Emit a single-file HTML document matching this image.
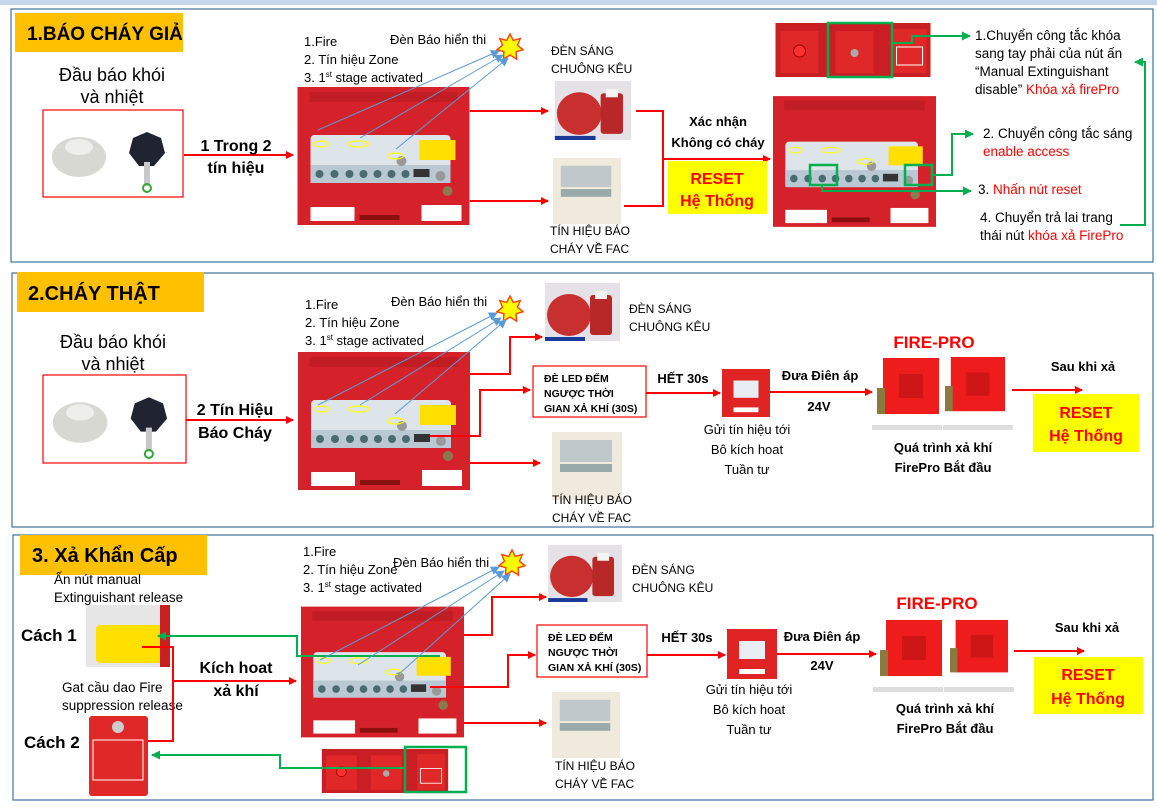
<!DOCTYPE html>
<html><head><meta charset="utf-8"><style>
body{margin:0;background:#fff}
svg text{font-family:"Liberation Sans",sans-serif}
.b{font-weight:bold}
</style></head><body>
<svg width="1157" height="805" viewBox="0 0 1157 805" xmlns="http://www.w3.org/2000/svg">
<defs>
<marker id="ar" markerWidth="8" markerHeight="8" refX="7" refY="4" orient="auto" markerUnits="userSpaceOnUse"><path d="M0,0 L8,4 L0,8 z" fill="#ff0000"/></marker>
<marker id="ag" markerWidth="9" markerHeight="9" refX="8" refY="4.5" orient="auto" markerUnits="userSpaceOnUse"><path d="M0,0 L9,4.5 L0,9 z" fill="#00b050"/></marker>
<marker id="ab" markerWidth="9" markerHeight="9" refX="8" refY="4.5" orient="auto" markerUnits="userSpaceOnUse"><path d="M0,0 L9,4.5 L0,9 z" fill="#5b9bd5"/></marker>
<symbol id="panel" viewBox="0 0 172 138">
<rect width="172" height="138" fill="#d5222a"/>
<rect x="12" y="5" width="148" height="10" fill="#c01d24"/>
<rect x="13" y="48" width="140" height="48" rx="4" fill="#dde4ea"/>
<rect x="13" y="78" width="140" height="18" fill="#b9c8d2"/>
<g fill="#4a6b70"><circle cx="22" cy="87" r="4"/><circle cx="37" cy="87" r="4"/><circle cx="52" cy="87" r="4"/><circle cx="66" cy="87" r="4"/><circle cx="80" cy="87" r="4"/><circle cx="94" cy="87" r="4"/><circle cx="108" cy="87" r="4"/></g>
<rect x="122" y="53" width="36" height="20" fill="#ffe000"/>
<rect x="116" y="82" width="16" height="8" fill="#333"/>
<circle cx="104" cy="74" r="5" fill="#999"/><circle cx="143" cy="89" r="5" fill="#999"/><circle cx="150" cy="104" r="5" fill="#8a7a50"/>
<rect x="13" y="120" width="44" height="14" fill="#fff"/>
<rect x="124" y="118" width="40" height="16" fill="#fff"/>
<rect x="62" y="128" width="40" height="5" fill="#8a1010"/>
<g fill="none" stroke="#ffff00" stroke-width="1.2"><ellipse cx="24" cy="57" rx="7" ry="3"/><ellipse cx="61" cy="57" rx="10" ry="3"/><ellipse cx="98" cy="69" rx="8" ry="3"/></g>
</symbol>
<symbol id="bell" viewBox="0 0 75 58">
<rect width="75" height="58" fill="#e4e2e6"/>
<ellipse cx="24" cy="32" rx="22" ry="21" fill="#c83030"/>
<rect x="45" y="12" width="22" height="40" rx="3" fill="#b82828"/><rect x="50" y="8" width="12" height="8" fill="#f4f4f4"/>
<rect x="0" y="54" width="40" height="4" fill="#1a3a9a"/>
</symbol>
<symbol id="fac" viewBox="0 0 70 68">
<rect width="70" height="68" fill="#efeadc"/>
<rect x="8" y="8" width="52" height="22" fill="#c0c8cc"/>
<rect x="8" y="32" width="52" height="8" fill="#9aa"/>
</symbol>
<symbol id="mod" viewBox="0 0 50 50">
<rect width="50" height="50" fill="#e02424"/>
<rect x="12" y="12" width="26" height="18" fill="#e8eef4"/>
<rect x="12" y="40" width="26" height="5" fill="#fff"/>
</symbol>
<symbol id="fp" viewBox="0 0 62 62">
<rect x="6" width="56" height="56" fill="#ee1c1c"/>
<rect x="0" y="30" width="8" height="26" fill="#8a7a40"/>
<rect x="22" y="16" width="24" height="24" fill="#b01010" opacity=".5"/>
</symbol>
<symbol id="star" viewBox="0 0 30 30">
<polygon points="15,1 18.5,8 26,6 23,13 29,18 21.5,20 22,28 15,23.5 8,28 8.5,20 1,18 7,13 4,6 11.5,8" fill="#ffff00" stroke="#ff4000" stroke-width="1.5"/>
</symbol>
<symbol id="strip" viewBox="0 0 155 54">
<rect width="155" height="54" fill="#c81e24"/>
<rect x="5" y="8" width="38" height="42" fill="#e02828"/><circle cx="24" cy="28" r="6" fill="#ff3030" stroke="#900"/>
<rect x="60" y="8" width="38" height="42" fill="#e02828"/><circle cx="79" cy="30" r="4" fill="#aaa"/>
<rect x="117" y="6" width="34" height="44" fill="#e02828"/><rect x="121" y="24" width="26" height="18" fill="none" stroke="#fff"/>
</symbol>
<symbol id="det" viewBox="0 0 140 87">
<ellipse cx="36" cy="47" rx="27" ry="20" fill="#d8d8d2"/><ellipse cx="36" cy="37" rx="14" ry="8" fill="#eeeeea"/>
<polygon points="104,22 118,28 122,43 111,56 96,56 86,43 90,28" fill="#1f2430"/>
<rect x="101" y="52" width="6" height="24" fill="#c8c8c8"/>
<circle cx="104" cy="78" r="4" fill="none" stroke="#3a3" stroke-width="2"/>
</symbol>
</defs>

<rect x="0" y="0" width="1157" height="5" fill="#c5d6ea"/>
<g fill="none" stroke="#41719c" stroke-width="1.2">
<rect x="11" y="9" width="1142" height="253"/>
<rect x="12" y="273" width="1141" height="254"/>
<rect x="13" y="535" width="1140" height="265"/>
</g>

<!-- ===== SECTION 1 ===== -->
<rect x="15" y="13" width="168" height="39" fill="#ffc000"/>
<text x="27" y="40" class="b" font-size="19">1.BÁO CHÁY GIẢ</text>
<text x="112" y="81" font-size="18" text-anchor="middle">Đầu báo khói</text>
<text x="112" y="103" font-size="18" text-anchor="middle">và nhiệt</text>
<rect x="43" y="110" width="140" height="87" fill="#fff" stroke="#f00" stroke-width="1.2"/>
<use href="#det" x="43" y="110" width="140" height="87"/>
<line x1="184" y1="155" x2="293" y2="155" stroke="#f00" stroke-width="2" marker-end="url(#ar)"/>
<text x="236" y="151" class="b" font-size="16" text-anchor="middle">1 Trong 2</text>
<text x="236" y="173" class="b" font-size="16" text-anchor="middle">tín hiệu</text>
<use href="#panel" x="297" y="87" width="173" height="138"/>
<text x="304" y="46" font-size="13">1.Fire</text>
<text x="304" y="64" font-size="13">2. Tín hiệu Zone</text>
<text x="304" y="82" font-size="13">3. 1<tspan font-size="8" dy="-5">st</tspan><tspan dy="5"> stage activated</tspan></text>
<text x="390" y="44" font-size="13">Đèn Báo hiển thi</text>
<use href="#star" x="496" y="33" width="28" height="28"/>
<g stroke="#5b9bd5" stroke-width="1" marker-end="url(#ab)">
<line x1="318" y1="130" x2="499" y2="51"/><line x1="360" y1="138" x2="503" y2="55"/><line x1="396" y1="149" x2="508" y2="58"/>
</g>
<line x1="470" y1="111" x2="548" y2="111" stroke="#f00" stroke-width="2" marker-end="url(#ar)"/>
<line x1="470" y1="201" x2="548" y2="201" stroke="#f00" stroke-width="2" marker-end="url(#ar)"/>
<text x="551" y="55" font-size="12">ĐÈN SÁNG</text>
<text x="551" y="73" font-size="12">CHUÔNG KÊU</text>
<use href="#bell" x="551" y="81" width="84" height="59"/>
<use href="#fac" x="551" y="158" width="72" height="66"/>
<text x="550" y="235" font-size="12">TÍN HIỆU BÁO</text>
<text x="550" y="253" font-size="12">CHÁY VỀ FAC</text>
<polyline points="636,111 663,111 663,206 624,206" fill="none" stroke="#f00" stroke-width="2"/>
<line x1="663" y1="159" x2="770" y2="159" stroke="#f00" stroke-width="2" marker-end="url(#ar)"/>
<text x="718" y="126" class="b" font-size="13" text-anchor="middle">Xác nhận</text>
<text x="718" y="147" class="b" font-size="13" text-anchor="middle">Không có cháy</text>
<rect x="668" y="161" width="99" height="53" fill="#ffff00"/>
<text x="717" y="184" class="b" font-size="16" fill="#f00" text-anchor="middle">RESET</text>
<text x="717" y="206" class="b" font-size="16" fill="#f00" text-anchor="middle">Hệ Thống</text>
<use href="#strip" x="773" y="23" width="160" height="54"/>
<rect x="828" y="23" width="64" height="54" fill="none" stroke="#00b050" stroke-width="2.5"/>
<use href="#panel" x="773" y="93" width="163" height="137"/>
<rect x="810" y="165" width="27" height="20" fill="none" stroke="#00b050" stroke-width="2.5"/>
<rect x="905" y="165" width="27" height="20" fill="none" stroke="#00b050" stroke-width="2.5"/>
<g fill="none" stroke="#00b050" stroke-width="2">
<polyline points="892,43 912,43 912,36 970,36" marker-end="url(#ag)"/>
<polyline points="932,175 952,175 952,134 973,134" marker-end="url(#ag)"/>
<polyline points="822,185 822,191 971,191" marker-end="url(#ag)"/>
<polyline points="1120,225 1145,225 1145,62 1135,62" marker-end="url(#ag)"/>
</g>
<g font-size="13.5">
<text x="975" y="40">1.Chuyển công tắc khóa</text>
<text x="975" y="58">sang tay phải của nút ấn</text>
<text x="975" y="76">“Manual Extinguishant</text>
<text x="975" y="94">disable” <tspan fill="#f00">Khóa xả firePro</tspan></text>
<text x="983" y="138">2. Chuyển công tắc sáng</text>
<text x="983" y="156" fill="#f00">enable access</text>
<text x="978" y="194">3. <tspan fill="#f00">Nhấn nút reset</tspan></text>
<text x="980" y="222">4. Chuyển trả lai trang</text>
<text x="980" y="240">thái nút <tspan fill="#f00">khóa xả FirePro</tspan></text>
</g>

<!-- ===== SECTION 2 ===== -->
<rect x="17" y="272" width="187" height="40" fill="#ffc000"/>
<text x="28" y="300" class="b" font-size="20">2.CHÁY THẬT</text>
<text x="113" y="348" font-size="18" text-anchor="middle">Đầu báo khói</text>
<text x="113" y="370" font-size="18" text-anchor="middle">và nhiệt</text>
<rect x="43" y="375" width="143" height="88" fill="#fff" stroke="#f00" stroke-width="1.2"/>
<use href="#det" x="43" y="375" width="143" height="88"/>
<line x1="186" y1="420" x2="293" y2="420" stroke="#f00" stroke-width="2" marker-end="url(#ar)"/>
<text x="235" y="415" class="b" font-size="16" text-anchor="middle">2 Tín Hiệu</text>
<text x="235" y="438" class="b" font-size="16" text-anchor="middle">Báo Cháy</text>
<use href="#panel" x="298" y="352" width="172" height="138"/>
<text x="305" y="309" font-size="13">1.Fire</text>
<text x="305" y="327" font-size="13">2. Tín hiệu Zone</text>
<text x="305" y="345" font-size="13">3. 1<tspan font-size="8" dy="-5">st</tspan><tspan dy="5"> stage activated</tspan></text>
<text x="391" y="306" font-size="13">Đèn Báo hiển thi</text>
<use href="#star" x="496" y="295" width="28" height="28"/>
<g stroke="#5b9bd5" stroke-width="1" marker-end="url(#ab)">
<line x1="318" y1="405" x2="497" y2="313"/><line x1="360" y1="405" x2="501" y2="318"/><line x1="395" y1="414" x2="506" y2="320"/>
</g>
<g fill="none" stroke="#f00" stroke-width="2" marker-end="url(#ar)">
<polyline points="470,374 510,374 510,337 542,337"/>
<polyline points="430,436 480,436 480,390 530,390"/>
<polyline points="470,463 540,463"/>
</g>
<use href="#bell" x="545" y="283" width="75" height="58"/>
<text x="629" y="313" font-size="12">ĐÈN SÁNG</text>
<text x="629" y="331" font-size="12">CHUÔNG KÊU</text>
<rect x="533" y="366" width="113" height="51" fill="#fff" stroke="#f00" stroke-width="1.2"/>
<g class="b" font-size="10.5"><text x="544" y="382">ĐÈ LED ĐẾM</text><text x="544" y="397">NGƯỢC THỜI</text><text x="544" y="412">GIAN XẢ KHÍ (30S)</text></g>
<use href="#fac" x="552" y="432" width="70" height="68"/>
<text x="552" y="504" font-size="12">TÍN HIỆU BÁO</text>
<text x="552" y="522" font-size="12">CHÁY VỀ FAC</text>
<text x="683" y="383" class="b" font-size="13" text-anchor="middle">HẾT 30s</text>
<line x1="646" y1="393" x2="720" y2="393" stroke="#f00" stroke-width="2" marker-end="url(#ar)"/>
<use href="#mod" x="722" y="368" width="48" height="50"/>
<line x1="770" y1="392" x2="872" y2="392" stroke="#f00" stroke-width="2" marker-end="url(#ar)"/>
<text x="820" y="380" class="b" font-size="13" text-anchor="middle">Đưa Điên áp</text>
<text x="819" y="411" class="b" font-size="13" text-anchor="middle">24V</text>
<text x="934" y="348" class="b" font-size="17" fill="#f00" text-anchor="middle">FIRE-PRO</text>
<use href="#fp" x="877" y="358" width="62" height="62"/>
<use href="#fp" x="945" y="356" width="60" height="62"/>
<rect x="872" y="425" width="70" height="5" fill="#ddd"/><rect x="943" y="425" width="70" height="5" fill="#ddd"/>
<text x="943" y="452" class="b" font-size="13" text-anchor="middle">Quá trình xả khí</text>
<text x="943" y="472" class="b" font-size="13" text-anchor="middle">FirePro Bắt đầu</text>
<g font-size="13" text-anchor="middle"><text x="747" y="434">Gửi tín hiệu tới</text><text x="747" y="454">Bô kích hoat</text><text x="747" y="474">Tuần tư</text></g>
<line x1="1012" y1="390" x2="1082" y2="390" stroke="#f00" stroke-width="2" marker-end="url(#ar)"/>
<text x="1083" y="371" class="b" font-size="13" text-anchor="middle">Sau khi xả</text>
<rect x="1033" y="394" width="106" height="58" fill="#ffff00"/>
<text x="1086" y="418" class="b" font-size="16" fill="#f00" text-anchor="middle">RESET</text>
<text x="1086" y="441" class="b" font-size="16" fill="#f00" text-anchor="middle">Hệ Thống</text>

<!-- ===== SECTION 3 ===== -->
<rect x="20" y="535" width="187" height="40" fill="#ffc000"/>
<text x="32" y="562" class="b" font-size="20">3. Xả Khẩn Cấp</text>
<text x="54" y="584" font-size="13.5">Ấn nút manual</text>
<text x="54" y="602" font-size="13.5">Extinguishant release</text>
<text x="21" y="641" class="b" font-size="17">Cách 1</text>
<rect x="86" y="605" width="84" height="62" fill="#e6e6e6"/><rect x="96" y="625" width="66" height="38" rx="4" fill="#ffe000"/><rect x="160" y="605" width="10" height="62" fill="#c82020"/>
<text x="62" y="692" font-size="13.5">Gat cầu dao Fire</text>
<text x="62" y="710" font-size="13.5">suppression release</text>
<text x="24" y="748" class="b" font-size="17">Cách 2</text>
<rect x="89" y="716" width="59" height="80" rx="3" fill="#e02828"/><rect x="93" y="740" width="50" height="40" fill="none" stroke="#fff"/><circle cx="118" cy="727" r="6" fill="#ccc"/>
<polyline points="142,647 173,647 173,741 148,741" fill="none" stroke="#f00" stroke-width="2"/>
<line x1="173" y1="681" x2="296" y2="681" stroke="#f00" stroke-width="2" marker-end="url(#ar)"/>
<text x="236" y="673" class="b" font-size="16" text-anchor="middle">Kích hoat</text>
<text x="236" y="696" class="b" font-size="16" text-anchor="middle">xả khí</text>
<use href="#panel" x="301" y="603" width="163" height="138"/>
<use href="#strip" x="312" y="749" width="146" height="44"/>
<rect x="405" y="747" width="61" height="45" fill="none" stroke="#00b050" stroke-width="2.5"/>
<g fill="none" stroke="#00b050" stroke-width="2">
<polyline points="440,656 297,656 297,636 158,636" marker-end="url(#ag)"/>
<polyline points="405,768 280,768 280,755 152,755" marker-end="url(#ag)"/>
</g>
<text x="303" y="556" font-size="13">1.Fire</text>
<text x="303" y="574" font-size="13">2. Tín hiệu Zone</text>
<text x="303" y="592" font-size="13">3. 1<tspan font-size="8" dy="-5">st</tspan><tspan dy="5"> stage activated</tspan></text>
<text x="393" y="567" font-size="13">Đèn Báo hiển thi</text>
<use href="#star" x="498" y="549" width="28" height="28"/>
<g stroke="#5b9bd5" stroke-width="1" marker-end="url(#ab)">
<line x1="320" y1="660" x2="499" y2="567"/><line x1="358" y1="665" x2="504" y2="571"/><line x1="398" y1="675" x2="510" y2="574"/>
</g>
<g fill="none" stroke="#f00" stroke-width="2" marker-end="url(#ar)">
<polyline points="464,635 492,635 492,597 546,597"/>
<polyline points="430,687 508,687 508,655 535,655"/>
<polyline points="464,723 546,723"/>
</g>
<use href="#bell" x="548" y="545" width="74" height="57"/>
<text x="632" y="574" font-size="12">ĐÈN SÁNG</text>
<text x="632" y="592" font-size="12">CHUÔNG KÊU</text>
<rect x="537" y="625" width="110" height="52" fill="#fff" stroke="#f00" stroke-width="1.2"/>
<g class="b" font-size="10.5"><text x="548" y="641">ĐÈ LED ĐẾM</text><text x="548" y="656">NGƯỢC THỜI</text><text x="548" y="671">GIAN XẢ KHÍ (30S)</text></g>
<use href="#fac" x="552" y="692" width="68" height="66"/>
<text x="555" y="770" font-size="12">TÍN HIỆU BÁO</text>
<text x="555" y="788" font-size="12">CHÁY VỀ FAC</text>
<text x="687" y="642" class="b" font-size="13" text-anchor="middle">HẾT 30s</text>
<line x1="647" y1="655" x2="725" y2="655" stroke="#f00" stroke-width="2" marker-end="url(#ar)"/>
<use href="#mod" x="727" y="629" width="50" height="50"/>
<line x1="777" y1="654" x2="876" y2="654" stroke="#f00" stroke-width="2" marker-end="url(#ar)"/>
<text x="822" y="641" class="b" font-size="13" text-anchor="middle">Đưa Điên áp</text>
<text x="822" y="670" class="b" font-size="13" text-anchor="middle">24V</text>
<text x="937" y="609" class="b" font-size="17" fill="#f00" text-anchor="middle">FIRE-PRO</text>
<use href="#fp" x="880" y="620" width="62" height="62"/>
<use href="#fp" x="950" y="618" width="58" height="62"/>
<rect x="873" y="687" width="70" height="5" fill="#ddd"/><rect x="944" y="687" width="70" height="5" fill="#ddd"/>
<text x="945" y="713" class="b" font-size="13" text-anchor="middle">Quá trình xả khí</text>
<text x="945" y="733" class="b" font-size="13" text-anchor="middle">FirePro Bắt đầu</text>
<g font-size="13" text-anchor="middle"><text x="749" y="694">Gửi tín hiệu tới</text><text x="749" y="714">Bô kích hoat</text><text x="749" y="734">Tuần tư</text></g>
<line x1="1014" y1="651" x2="1084" y2="651" stroke="#f00" stroke-width="2" marker-end="url(#ar)"/>
<text x="1087" y="632" class="b" font-size="13" text-anchor="middle">Sau khi xả</text>
<rect x="1034" y="657" width="109" height="57" fill="#ffff00"/>
<text x="1088" y="680" class="b" font-size="16" fill="#f00" text-anchor="middle">RESET</text>
<text x="1088" y="704" class="b" font-size="16" fill="#f00" text-anchor="middle">Hệ Thống</text>
</svg>
</body></html>
